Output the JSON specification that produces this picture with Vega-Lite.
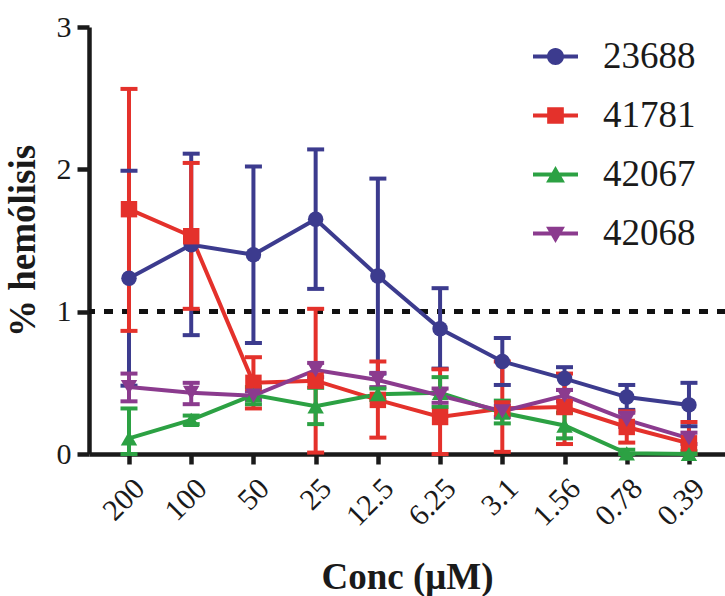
{
  "$schema": "https://vega.github.io/schema/vega-lite/v6.json",
  "width": 636,
  "height": 427,
  "autosize": {"type": "none"},
  "padding": {"left": 89, "top": 27, "right": 0, "bottom": 142},
  "background": "white",
  "config": {
    "view": {"stroke": null},
    "font": "Liberation Serif",
    "axis": {"grid": false, "domainColor": "#1a1a1a", "tickColor": "#1a1a1a", "labelColor": "#1a1a1a", "titleColor": "#1a1a1a", "labelFont": "Liberation Serif", "titleFont": "Liberation Serif"}
  },
  "data": {
    "values": [
      {"strain": "23688", "conc": "200", "mean": 1.235, "lo": 0.48, "hi": 1.99},
      {"strain": "23688", "conc": "100", "mean": 1.47, "lo": 0.835, "hi": 2.11},
      {"strain": "23688", "conc": "50", "mean": 1.40, "lo": 0.78, "hi": 2.02},
      {"strain": "23688", "conc": "25", "mean": 1.65, "lo": 1.16, "hi": 2.14},
      {"strain": "23688", "conc": "12.5", "mean": 1.25, "lo": 0.565, "hi": 1.935},
      {"strain": "23688", "conc": "6.25", "mean": 0.88, "lo": 0.60, "hi": 1.165},
      {"strain": "23688", "conc": "3.1", "mean": 0.65, "lo": 0.485, "hi": 0.815},
      {"strain": "23688", "conc": "1.56", "mean": 0.53, "lo": 0.45, "hi": 0.61},
      {"strain": "23688", "conc": "0.78", "mean": 0.40, "lo": 0.31, "hi": 0.485},
      {"strain": "23688", "conc": "0.39", "mean": 0.345, "lo": 0.195, "hi": 0.50},
      {"strain": "41781", "conc": "200", "mean": 1.72, "lo": 0.865, "hi": 2.565},
      {"strain": "41781", "conc": "100", "mean": 1.53, "lo": 1.02, "hi": 2.045},
      {"strain": "41781", "conc": "50", "mean": 0.50, "lo": 0.32, "hi": 0.68},
      {"strain": "41781", "conc": "25", "mean": 0.515, "lo": 0.01, "hi": 1.02},
      {"strain": "41781", "conc": "12.5", "mean": 0.38, "lo": 0.115, "hi": 0.65},
      {"strain": "41781", "conc": "6.25", "mean": 0.26, "lo": 0.0, "hi": 0.595},
      {"strain": "41781", "conc": "3.1", "mean": 0.32, "lo": 0.015, "hi": 0.65},
      {"strain": "41781", "conc": "1.56", "mean": 0.33, "lo": 0.07, "hi": 0.565},
      {"strain": "41781", "conc": "0.78", "mean": 0.19, "lo": 0.08, "hi": 0.30},
      {"strain": "41781", "conc": "0.39", "mean": 0.075, "lo": 0.0, "hi": 0.225},
      {"strain": "42067", "conc": "200", "mean": 0.11, "lo": 0.0, "hi": 0.32},
      {"strain": "42067", "conc": "100", "mean": 0.24, "lo": 0.21, "hi": 0.27},
      {"strain": "42067", "conc": "50", "mean": 0.415, "lo": 0.35, "hi": 0.47},
      {"strain": "42067", "conc": "25", "mean": 0.335, "lo": 0.21, "hi": 0.465},
      {"strain": "42067", "conc": "12.5", "mean": 0.42, "lo": 0.38, "hi": 0.46},
      {"strain": "42067", "conc": "6.25", "mean": 0.43, "lo": 0.33, "hi": 0.54},
      {"strain": "42067", "conc": "3.1", "mean": 0.29, "lo": 0.215, "hi": 0.375},
      {"strain": "42067", "conc": "1.56", "mean": 0.20, "lo": 0.11, "hi": 0.29},
      {"strain": "42067", "conc": "0.78", "mean": 0.005, "lo": 0.0, "hi": 0.03},
      {"strain": "42067", "conc": "0.39", "mean": 0.0, "lo": 0.0, "hi": 0.02},
      {"strain": "42068", "conc": "200", "mean": 0.47, "lo": 0.37, "hi": 0.565},
      {"strain": "42068", "conc": "100", "mean": 0.43, "lo": 0.35, "hi": 0.50},
      {"strain": "42068", "conc": "50", "mean": 0.41, "lo": 0.38, "hi": 0.44},
      {"strain": "42068", "conc": "25", "mean": 0.59, "lo": 0.54, "hi": 0.64},
      {"strain": "42068", "conc": "12.5", "mean": 0.52, "lo": 0.47, "hi": 0.57},
      {"strain": "42068", "conc": "6.25", "mean": 0.41, "lo": 0.36, "hi": 0.46},
      {"strain": "42068", "conc": "3.1", "mean": 0.30, "lo": 0.26, "hi": 0.34},
      {"strain": "42068", "conc": "1.56", "mean": 0.41, "lo": 0.37, "hi": 0.45},
      {"strain": "42068", "conc": "0.78", "mean": 0.24, "lo": 0.19, "hi": 0.29},
      {"strain": "42068", "conc": "0.39", "mean": 0.11, "lo": 0.07, "hi": 0.15}
    ]
  },
  "encoding": {
    "x": {
      "field": "conc", "type": "ordinal",
      "sort": ["200", "100", "50", "25", "12.5", "6.25", "3.1", "1.56", "0.78", "0.39"],
      "scale": {"type": "point", "padding": 0.611, "align": 0.526},
      "axis": {
        "title": "Conc (μM)", "titleFontSize": 37, "titleFontWeight": "bold", "titlePadding": 28,
        "labelFontSize": 30, "labelAngle": -45, "labelAlign": "right", "labelBaseline": "top",
        "labelPadding": 9, "tickSize": 10, "tickWidth": 4.5, "domainWidth": 4.5
      }
    }
  },
  "layer": [
    {
      "mark": {"type": "rule", "strokeDash": [8, 9.5], "strokeWidth": 4, "color": "#111111"},
      "encoding": {"y": {"datum": 1}, "x": null}
    },
    {
      "mark": {"type": "point", "filled": true, "opacity": 0},
      "encoding": {
        "y": {"field": "mean", "type": "quantitative"},
        "color": {
          "field": "strain", "type": "nominal",
          "scale": {"domain": ["23688", "41781", "42067", "42068"], "range": ["#3C3B8E", "#E4312B", "#2CA143", "#8B3B8E"]},
          "legend": {
            "title": null, "orient": "none", "legendX": 444, "legendY": 7, "padding": 0,
            "symbolSize": 2025, "symbolStrokeWidth": 0, "symbolOpacity": 1, "rowPadding": 18, "labelOffset": 25,
            "labelFont": "Liberation Serif", "labelFontSize": 37, "labelColor": "#1a1a1a"
          }
        },
        "shape": {
          "field": "strain", "type": "nominal",
          "scale": {"domain": ["23688", "41781", "42067", "42068"], "range": [
            "M-1,-0.09L1,-0.09L1,0.09L-1,0.09Z M-0.38,0A0.38,0.38,0,1,1,0.38,0A0.38,0.38,0,1,1,-0.38,0Z",
            "M-1,-0.09L1,-0.09L1,0.09L-1,0.09Z M-0.37,-0.37L0.37,-0.37L0.37,0.37L-0.37,0.37Z",
            "M-1,-0.09L1,-0.09L1,0.09L-1,0.09Z M0,-0.38L0.42,0.36L-0.42,0.36Z",
            "M-1,-0.09L1,-0.09L1,0.09L-1,0.09Z M-0.42,-0.3L0.42,-0.3L0,0.42Z"
          ]},
          "legend": {
            "title": null, "orient": "none", "legendX": 444, "legendY": 7, "padding": 0,
            "symbolSize": 2025, "symbolStrokeWidth": 0, "symbolOpacity": 1, "rowPadding": 18, "labelOffset": 25,
            "labelFont": "Liberation Serif", "labelFontSize": 37, "labelColor": "#1a1a1a"
          }
        }
      }
    },
    {
      "mark": {"type": "rule", "strokeWidth": 4},
      "encoding": {
        "y": {"field": "lo", "type": "quantitative", "scale": {"domain": [0, 3]},
          "axis": {"values": [0, 1, 2, 3], "format": "d", "title": "% hemólisis", "titleFontSize": 37, "titleFontWeight": "bold", "titlePadding": 14,
            "labelFontSize": 30, "labelPadding": 6, "tickSize": 12, "tickWidth": 4.5, "domainWidth": 4.5}},
        "y2": {"field": "hi"},
        "stroke": {"field": "strain", "type": "nominal",
          "scale": {"range": ["#3C3B8E", "#E4312B", "#2CA143", "#8B3B8E"]},
          "legend": null}
      }
    },
    {
      "mark": {"type": "tick", "size": 17, "thickness": 4, "opacity": 1},
      "encoding": {
        "y": {"field": "lo", "type": "quantitative"},
        "fill": {"field": "strain", "type": "nominal",
          "scale": {"range": ["#3C3B8E", "#E4312B", "#2CA143", "#8B3B8E"]},
          "legend": null}
      }
    },
    {
      "mark": {"type": "tick", "size": 17, "thickness": 4, "opacity": 1},
      "encoding": {
        "y": {"field": "hi", "type": "quantitative"},
        "fill": {"field": "strain", "type": "nominal", "legend": null}
      }
    },
    {
      "mark": {"type": "line", "strokeWidth": 4},
      "encoding": {
        "y": {"field": "mean", "type": "quantitative"},
        "stroke": {"field": "strain", "type": "nominal", "legend": null}
      }
    },
    {
      "transform": [{"filter": "datum.strain == '23688'"}],
      "mark": {"type": "point", "shape": "circle", "filled": true, "opacity": 1, "size": 240},
      "encoding": {"y": {"field": "mean", "type": "quantitative"}, "fill": {"field": "strain", "type": "nominal", "legend": null}}
    },
    {
      "transform": [{"filter": "datum.strain == '41781'"}],
      "mark": {"type": "point", "shape": "square", "filled": true, "opacity": 1, "size": 270},
      "encoding": {"y": {"field": "mean", "type": "quantitative"}, "fill": {"field": "strain", "type": "nominal", "legend": null}}
    },
    {
      "transform": [{"filter": "datum.strain == '42067'"}],
      "mark": {"type": "point", "shape": "triangle-up", "filled": true, "opacity": 1, "size": 270},
      "encoding": {"y": {"field": "mean", "type": "quantitative"}, "fill": {"field": "strain", "type": "nominal", "legend": null}}
    },
    {
      "transform": [{"filter": "datum.strain == '42068'"}],
      "mark": {"type": "point", "shape": "triangle-down", "filled": true, "opacity": 1, "size": 270},
      "encoding": {"y": {"field": "mean", "type": "quantitative"}, "fill": {"field": "strain", "type": "nominal", "legend": null}}
    }
  ]
}
